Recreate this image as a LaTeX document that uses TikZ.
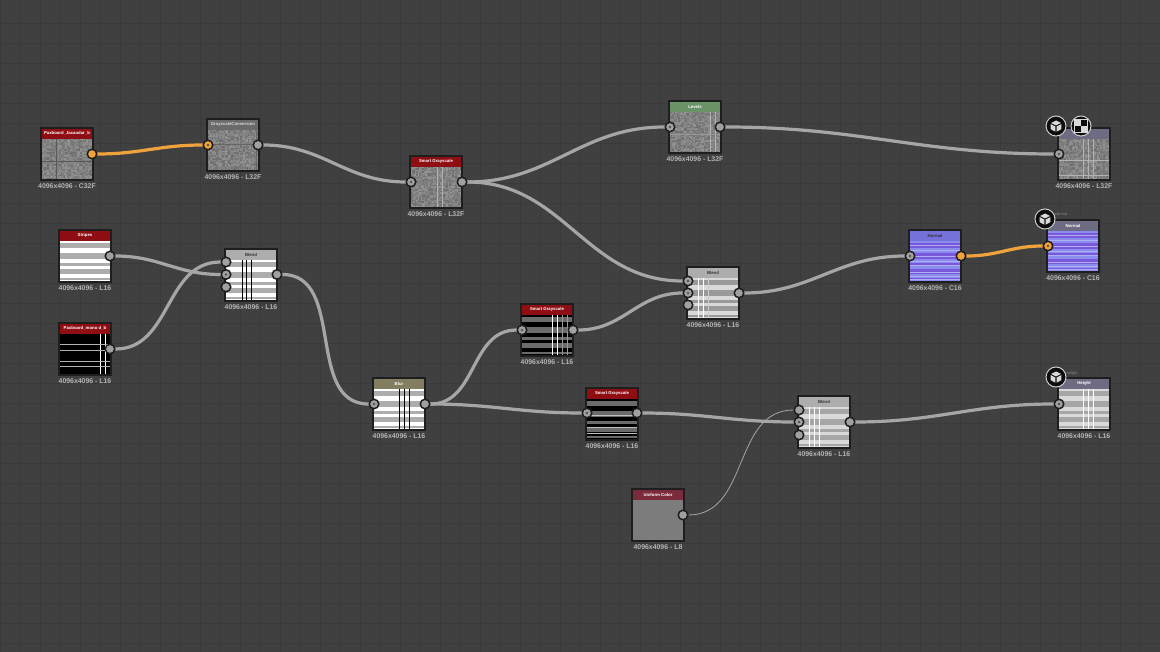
\documentclass[tikz,border=0pt]{standalone}
\usepackage{fontspec}
\setmainfont{Liberation Sans}
\usetikzlibrary{backgrounds,calc}
\definecolor{bg}{HTML}{404040}
\definecolor{gridc}{HTML}{3A3A3A}
\definecolor{frame}{HTML}{1E1E1E}
\definecolor{wire}{HTML}{A6A6A6}
\definecolor{orng}{HTML}{F0A23C}
\definecolor{pin}{HTML}{A0A0A0}
\definecolor{redh}{HTML}{8E0E14}
\definecolor{grayh}{HTML}{6A6A6A}
\definecolor{greenh}{HTML}{6A9468}
\definecolor{lgh}{HTML}{ADADAD}
\definecolor{oliveh}{HTML}{837E62}
\definecolor{wineh}{HTML}{7A2A3A}
\definecolor{purph}{HTML}{6E6C82}
\definecolor{nrmh}{HTML}{7472D8}
\definecolor{bluelt}{HTML}{8A8CEE}
\definecolor{bluedk}{HTML}{7A58DC}
\definecolor{midg}{HTML}{7C7C7C}
\definecolor{lab}{HTML}{B4B4B4}
\tikzset{
  x=1pt,y=-1pt,
  wirel/.style={draw=wire,line width=3.2pt,line cap=round},
  wireo/.style={draw=orng,line width=3.2pt,line cap=round},
  wiret/.style={draw=wire,line width=0.8pt},
  pinn/.style={circle,draw=frame,line width=1.5pt,fill=pin,inner sep=0pt,minimum size=9.5pt},
  pinorange/.style={pinn,fill=orng},
  dotp/.style={circle,fill=frame!60!pin,inner sep=0pt,minimum size=2.8pt},
  boxn/.style={draw=frame,line width=2.3pt,minimum size=52pt,inner sep=0pt,rectangle},
  titlet/.style={font=\bfseries\fontsize{4.3}{5}\selectfont,inner sep=0pt},
  labelt/.style={font=\bfseries\fontsize{6.9}{8}\selectfont,text=lab,inner sep=0pt},
  iconring/.style={circle,draw=white!80!black,line width=1pt,fill=black!80!bg,minimum size=20pt,inner sep=0pt},
}
% \nbox{name}{x}{y}{head colour}{title}{title colour}{resolution label}{body code}
\newcommand{\nbox}[8]{%
  \begin{scope}[shift={(#2,#3)}]
    \fill[midg] (1,1) rectangle (53,53);
    \begin{scope}
      \clip (1,1) rectangle (53,53);
      #8
    \end{scope}
    \fill[#4] (1,1) rectangle (53,12);
    \node[boxn] (#1) at (27,27) {};
    \node[titlet,text=#6] (#1-title) at (27,6.5) {#5};
    \node[labelt] (#1-lab) at (27,59) {#7};
  \end{scope}}
% bands: colours A, B
\newcommand{\bandsAB}[2]{%
  \foreach \ya/\yb/\c in {12/14/#1,14/19/#2,19/24/#1,24/30/#2,30/34/#1,34/37/#2,37/40/#1,40/45/#2,45/49/#1,49/51/#2,51/53/#1}{\fill[\c] (1,\ya) rectangle (53,\yb);}}
\newcommand{\vl}[3]{\foreach \xx in {#1}{\draw[#2,line width=#3] (\xx,12) -- (\xx,53);}}
\newcommand{\hl}[3]{\foreach \yy in {#1}{\draw[#2,line width=#3] (1,\yy) -- (53,\yy);}}
\newcommand{\noisefill}[1]{%
  \pgfmathsetseed{#1}%
  \foreach \i in {1,2.5,...,52}{\foreach \j in {12,13.5,...,52.5}{%
    \pgfmathsetmacro{\g}{int(42+rnd*16)}%
    \fill[black!\g!white] (\i,\j) rectangle ++(1.6,1.6);}}}
\begin{document}
\begin{tikzpicture}
\useasboundingbox (0,0) rectangle (1160,652);
% nodes
\nbox{pax}{40}{127}{redh}{Paxboard\_Jacaudar\_b}{white}{4096x4096 - C32F}{\noisefill{11}\draw[black!65,line width=.6pt](16,12)--(16,53);\hl{34}{black!65}{.6pt}}
\nbox{gray}{206}{118}{grayh}{GrayscaleConversion}{white!85!black}{4096x4096 - L32F}{\noisefill{12}\draw[black!60,line width=.6pt](1,26)--(53,26);\draw[black!60,line width=.6pt](50,12)--(50,53);}
\nbox{smt}{409}{155}{redh}{Smart Grayscale}{white}{4096x4096 - L32F}{\noisefill{13}\vl{28,33}{white!70!black}{.6pt}}
\nbox{lev}{668}{100}{greenh}{Levels}{white}{4096x4096 - L32F}{\noisefill{14}\vl{42,47}{white!70!black}{.6pt}\hl{34}{white!60!black}{.5pt}}
\nbox{o1}{1057}{127}{purph}{Base}{white}{4096x4096 - L32F}{\noisefill{15}\vl{26,31,36}{white!70!black}{.5pt}\hl{33,48}{white!70!black}{.5pt}}
\nbox{str}{58}{229}{redh}{Stripes}{white}{4096x4096 - L16}{\bandsAB{white}{black!32}}
\nbox{mono}{58}{322}{redh}{Paxboard\_mono d\_b}{white}{4096x4096 - L16}{\fill[black](1,12)rectangle(53,53);\vl{42.5,47.5,52.5}{white}{.7pt}\hl{22,28,39,44}{white!70!black}{.5pt}}
\nbox{ble}{224}{248}{lgh}{Blend}{black!80}{4096x4096 - L16}{\bandsAB{white}{black!32}\vl{18,22,27}{black}{.8pt}}
\nbox{blr}{372}{377}{oliveh}{Blur}{white}{4096x4096 - L16}{\bandsAB{white}{black!32}\vl{27,32,37}{black}{.8pt}}
\nbox{sg2}{520}{303}{redh}{Smart Grayscale}{white}{4096x4096 - L16}{\bandsAB{black}{black!58}\vl{32,37}{white}{.8pt}\vl{42,47}{white!60!black}{.5pt}}
\nbox{sg3}{585}{387}{redh}{Smart Grayscale}{white}{4096x4096 - L16}{\bandsAB{black}{black!58}\hl{28,40,46}{white!75!black}{.5pt}}
\nbox{ble2}{686}{266}{lgh}{Blend}{black!80}{4096x4096 - L16}{\bandsAB{white!85!black}{black!40}\vl{12,17}{white}{.8pt}\vl{22}{white!80!black}{.5pt}}
\nbox{ble3}{797}{395}{lgh}{Blend}{black!80}{4096x4096 - L16}{\bandsAB{white!85!black}{black!35}\vl{12,17,22}{white}{.7pt}}
\nbox{uni}{631}{488}{wineh}{Uniform Color}{white}{4096x4096 - L8}{}
\nbox{nrm}{908}{229}{nrmh}{Normal}{black!80}{4096x4096 - C16}{\bandsAB{bluelt}{bluedk}\hl{16,21,27,32,36,43,47,50}{bluelt!70!white}{.6pt}}
\nbox{o2}{1046}{219}{purph}{Normal}{white}{4096x4096 - C16}{\bandsAB{bluelt}{bluedk}\hl{16,21,27,32,36,43,47,50}{bluelt!70!white}{.6pt}}
\nbox{o3}{1057}{377}{purph}{Height}{white}{4096x4096 - L16}{\bandsAB{white!85!black}{black!35}\vl{26,31,36}{white}{.7pt}}
% pins
\foreach \nm/\px/\py/\st/\pn in {
  pax/92/154/pinorange/paxo, gray/208/145/pinorange/grayi, gray/258/145/pinn/grayo,
  smt/411/182/pinn/smti, smt/462/182/pinn/smto, lev/670/127/pinn/levi, lev/720/127/pinn/levo,
  o1/1059/154/pinn/o1i, str/110/256/pinn/stro, mono/110/349/pinn/monoo,
  ble/226/262/pinn/blea, ble/226/274.5/pinn/bleb, ble/226/287/pinn/blec, ble/277/274.5/pinn/bleo,
  blr/374/404/pinn/blri, blr/425/404/pinn/blro, sg2/522/330/pinn/sgbi, sg2/573/330/pinn/sgbo,
  sg3/587/413/pinn/sgci, sg3/637/413/pinn/sgco,
  ble2/688/281/pinn/bba, ble2/688/293/pinn/bbb, ble2/688/305/pinn/bbc, ble2/739/293/pinn/bbo,
  ble3/799/410/pinn/bca, ble3/799/422/pinn/bcb, ble3/799/435/pinn/bcc, ble3/850/422/pinn/bco,
  uni/683/515/pinn/unio, nrm/910/256/pinn/nrmi, nrm/961/256/pinorange/nrmo,
  o2/1048/246/pinorange/o2i, o3/1059/404/pinn/o3i}{
  \node[\st] (\pn) at (\px,\py) {};
}
\foreach \d in {grayi,smti,levi,o1i,bleb,blri,sgbi,sgci,bba,bbb,bcb,nrmi,o2i,o3i}{\node[dotp] (\d-dot) at (\d) {};}
% small names and icons
\node[font=\fontsize{4}{5}\selectfont,text=lab!60!bg,inner sep=0pt] (tagn) at (1061,214.5) {normal};
\node[font=\fontsize{4}{5}\selectfont,text=lab!60!bg,inner sep=0pt] (tagh) at (1072,373) {height};
\newcommand{\cube}[1]{\begin{scope}[shift={(#1)}]
  \fill[white!85!black] (0,-5.5)--(5,-3)--(0,-.6)--(-5,-3)--cycle;
  \fill[white!85!black] (-5.3,-1.9)--(-.6,.5)--(-.6,5.7)--(-5.3,3.2)--cycle;
  \fill[white!85!black] (5.3,-1.9)--(.6,.5)--(.6,5.7)--(5.3,3.2)--cycle;
\end{scope}}
\node[iconring] (ic1) at (1056,126) {}; \cube{1056,126}
\node[iconring] (ic2) at (1081,126) {};
\fill[white!85!black] (1074.5,119.5) rectangle (1081,126);
\fill[white!85!black] (1081,126) rectangle (1087.5,132.5);
\draw[white!85!black,line width=.7pt] (1074.5,119.5) rectangle (1087.5,132.5);
\node[iconring] (ic3) at (1045,219) {}; \cube{1045,219}
\node[iconring] (ic4) at (1056,377) {}; \cube{1056,377}
% background and connectors
\begin{scope}[on background layer]
  \fill[bg] (0,0) rectangle (1160,652);
  \foreach \k in {0,...,58}{\draw[gridc,line width=.8pt] (\k*20,0) -- (\k*20,652);}
  \foreach \k in {1,...,32}{\draw[gridc,line width=.8pt] (0,\k*20+3) -- (1160,\k*20+3);}
  \draw[wireo] (paxo) to[out=0,in=180,looseness=1.05] (grayi);
  \draw[wirel] (grayo) to[out=0,in=180,looseness=1.05] (smti);
  \draw[wirel] (smto) to[out=0,in=180,looseness=1.05] (levi);
  \draw[wirel] (smto) to[out=0,in=180,looseness=1.05] (bba);
  \draw[wirel] (levo) to[out=0,in=180,looseness=1.05] (o1i);
  \draw[wirel] (stro) to[out=0,in=180,looseness=1.05] (bleb);
  \draw[wirel] (monoo) to[out=0,in=180,looseness=1.05] (blea);
  \draw[wirel] (bleo) to[out=0,in=180,looseness=1.05] (blri);
  \draw[wirel] (blro) to[out=0,in=180,looseness=1.05] (sgbi);
  \draw[wirel] (blro) to[out=0,in=180,looseness=1.05] (sgci);
  \draw[wirel] (sgbo) to[out=0,in=180,looseness=1.05] (bbb);
  \draw[wirel] (sgco) to[out=0,in=180,looseness=1.05] (bcb);
  \draw[wiret] (unio) to[out=0,in=180,looseness=1.05] (bca);
  \draw[wirel] (bbo) to[out=0,in=180,looseness=1.05] (nrmi);
  \draw[wireo] (nrmo) to[out=0,in=180,looseness=1.05] (o2i);
  \draw[wirel] (bco) to[out=0,in=180,looseness=1.05] (o3i);
\end{scope}
\end{tikzpicture}
\end{document}
